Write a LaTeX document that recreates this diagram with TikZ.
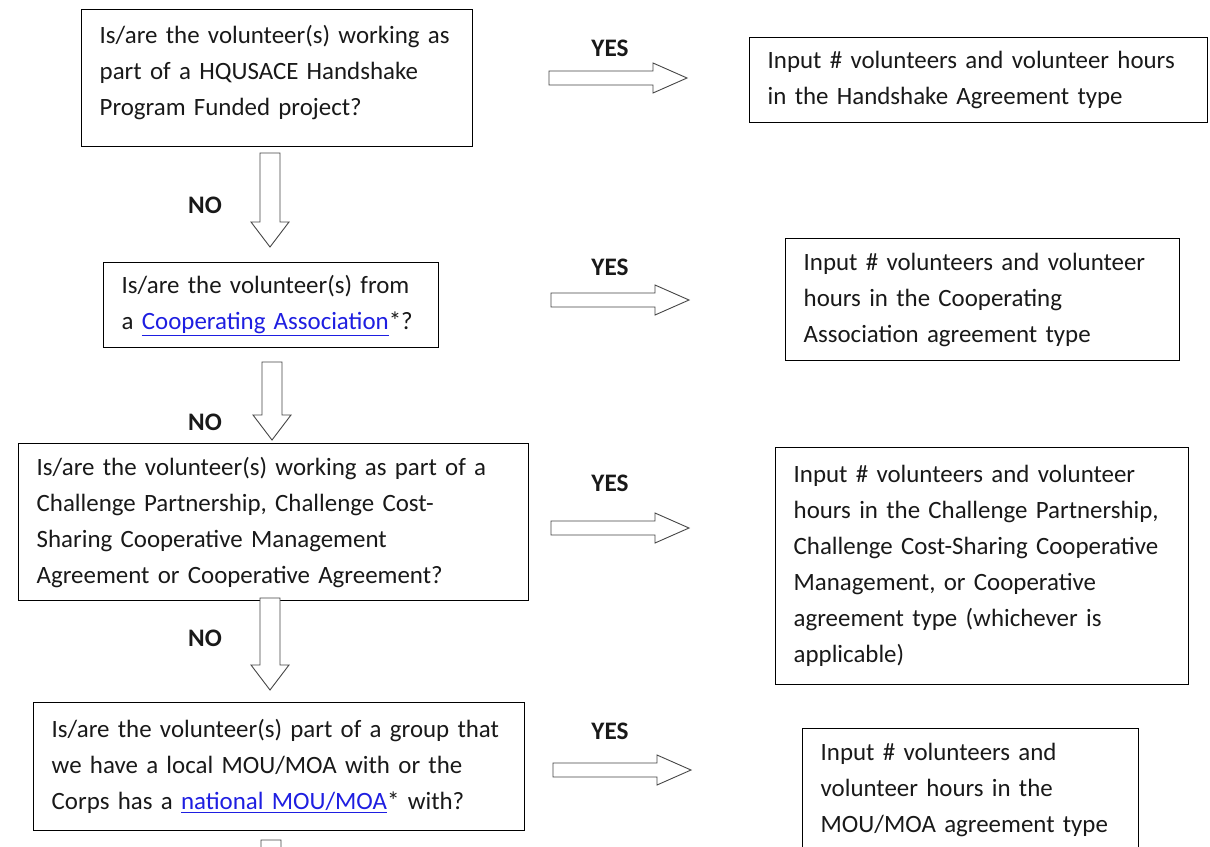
\documentclass[tikz,border=0pt]{standalone}
\usepackage{fontspec}
\setmainfont{Carlito}
\definecolor{linkblue}{RGB}{30,30,225}
\definecolor{arrowgray}{RGB}{70,70,70}
\definecolor{inkgray}{RGB}{25,25,25}
\newcommand{\linktext}[1]{{\color{linkblue}\underline{#1}}}
\tikzset{
  box/.style={draw=black,line width=1.4pt,anchor=north west,inner xsep=18pt,inner ysep=0pt,align=left,
    text=inkgray,font=\fontsize{24.9pt}{36pt}\selectfont},
  lbl/.style={text=inkgray,font=\fontsize{25.2pt}{36pt}\selectfont\bfseries},
  arrowline/.style={draw=arrowgray,line width=0.9pt,fill=white},
  pics/rarrow/.style={code={\draw[arrowline] (0,-7) -- (104,-7) -- (104,-15) -- (138,0) -- (104,15) -- (104,7) -- (0,7) -- cycle;}},
  pics/darrow/.style={code={\draw[arrowline] (-10,0) -- (-10,#1-25) -- (-19,#1-25) -- (0,#1) -- (19,#1-25) -- (10,#1-25) -- (10,0) -- cycle;}},
}
\begin{document}
\begin{tikzpicture}[x=1pt,y=-1pt]
\clip (0,0) rectangle (1210,846);
\fill[white] (0,0) rectangle (1210,846);
% questions
\node[box,text width=355pt,minimum height=137pt] (q1) at (81,9) {Is/are the volunteer(s) working as\\part of a HQUSACE Handshake\\Program Funded project?\\[-31pt]\strut};
\node[box,text width=299pt,minimum height=85pt] (q2) at (103,262) {Is/are the volunteer(s) from\\a \linktext{Cooperating Association}*?};
\node[box,text width=474pt,minimum height=157pt] (q3) at (18,443) {Is/are the volunteer(s) working as part of a\\Challenge Partnership, Challenge Cost-\\Sharing Cooperative Management\\Agreement or Cooperative Agreement?};
\node[box,text width=455pt,minimum height=128pt] (q4) at (33,702) {Is/are the volunteer(s) part of a group that\\we have a local MOU/MOA with or the\\Corps has a \linktext{national MOU/MOA}* with?};
% answers
\node[box,text width=422pt,minimum height=85pt] (a1) at (749,37) {Input \# volunteers and volunteer hours\\in the Handshake Agreement type};
\node[box,text width=358pt,minimum height=122pt] (a2) at (785,238) {Input \# volunteers and volunteer\\hours in the Cooperating\\Association agreement type};
\node[box,text width=377pt,minimum height=237pt] (a3) at (775,447) {Input \# volunteers and volunteer\\hours in the Challenge Partnership,\\Challenge Cost-Sharing Cooperative\\Management, or Cooperative\\agreement type (whichever is\\applicable)};
\node[box,text width=300pt,minimum height=123pt] (a4) at (802,728) {Input \# volunteers and\\volunteer hours in the\\MOU/MOA agreement type};
% block arrows
\pic at (549,78) {rarrow};
\pic at (551,300) {rarrow};
\pic at (551,528) {rarrow};
\pic at (553,770) {rarrow};
\pic at (270,153) {darrow=94};
\pic at (272,362) {darrow=78};
\pic at (270,598) {darrow=92};
\pic at (271,840) {darrow=60};
% labels
\node[lbl] (yes1) at (610,48) {YES};
\node[lbl] (yes2) at (610,267) {YES};
\node[lbl] (yes3) at (610,483) {YES};
\node[lbl] (yes4) at (610,731) {YES};
\node[lbl] (no1) at (205,205) {NO};
\node[lbl] (no2) at (205,422) {NO};
\node[lbl] (no3) at (205,638) {NO};
\end{tikzpicture}
\end{document}
